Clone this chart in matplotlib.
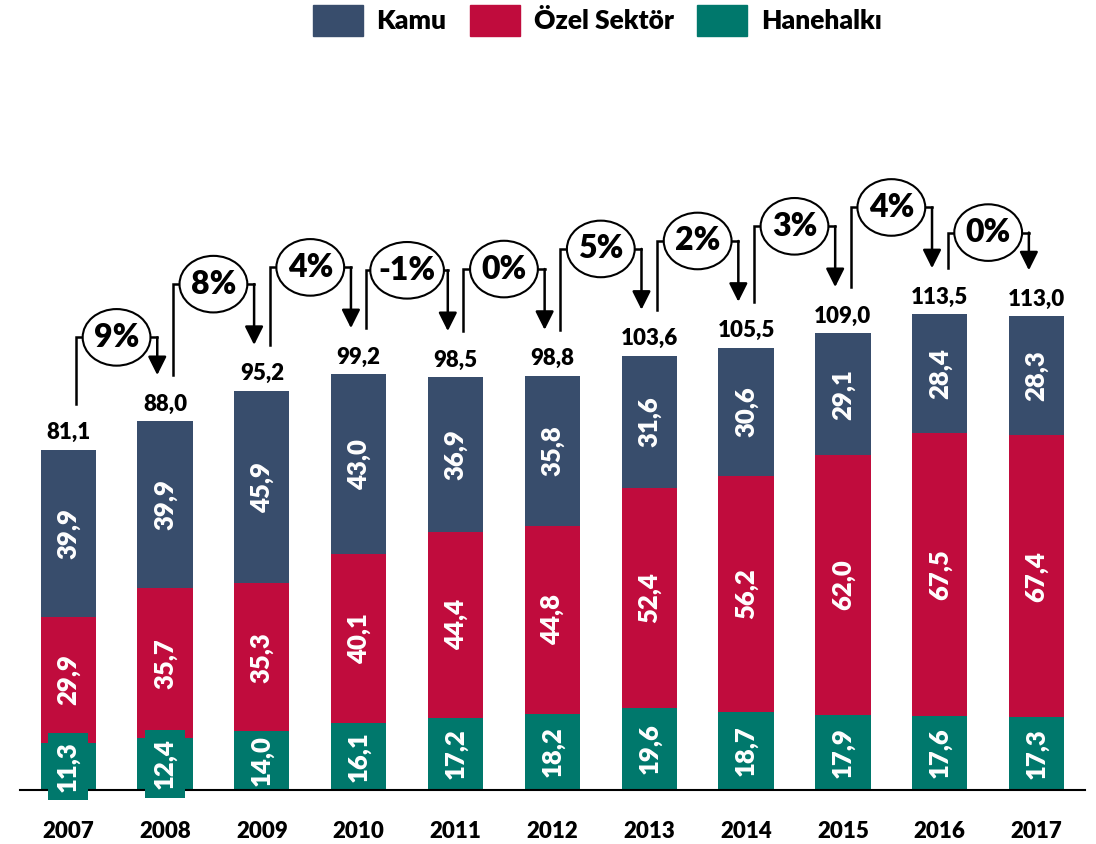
import matplotlib.pyplot as plt
from matplotlib.patches import Ellipse, Patch

plt.rcParams['font.family'] = ['Lato', 'DejaVu Sans']

years = ['2007', '2008', '2009', '2010', '2011', '2012', '2013', '2014', '2015', '2016', '2017']
hanehalki = [11.3, 12.4, 14.0, 16.1, 17.2, 18.2, 19.6, 18.7, 17.9, 17.6, 17.3]
ozel = [29.9, 35.7, 35.3, 40.1, 44.4, 44.8, 52.4, 56.2, 62.0, 67.5, 67.4]
kamu = [39.9, 39.9, 45.9, 43.0, 36.9, 35.8, 31.6, 30.6, 29.1, 28.4, 28.3]
totals = [81.1, 88.0, 95.2, 99.2, 98.5, 98.8, 103.6, 105.5, 109.0, 113.5, 113.0]
growth = ['9%', '8%', '4%', '-1%', '0%', '5%', '2%', '3%', '4%', '0%']

c_kamu = '#384D6C'
c_ozel = '#C00C3D'
c_hane = '#00786C'

def fmt(v):
    return f'{v:.1f}'.replace('.', ',')

fig = plt.figure(figsize=(10.96, 8.44), dpi=100)
ax = fig.add_axes([0.018, 0.064, 0.972, 0.936])

x = list(range(len(years)))
w = 0.57
ax.bar(x, hanehalki, w, color=c_hane, zorder=2)
ax.bar(x, ozel, w, bottom=hanehalki, color=c_ozel, zorder=2)
bot2 = [a + b for a, b in zip(hanehalki, ozel)]
ax.bar(x, kamu, w, bottom=bot2, color=c_kamu, zorder=2)

lab_kw = dict(rotation=90, ha='center', va='center', color='white',
              fontsize=18.5, fontweight='heavy', zorder=4)
for i in x:
    # short segments get a label box that sticks out, as in the original
    box = dict(facecolor=c_hane, edgecolor='none', pad=6) if hanehalki[i] < 13 else None
    ax.text(i, hanehalki[i] / 2, fmt(hanehalki[i]), bbox=box, **lab_kw)
    ax.text(i, hanehalki[i] + ozel[i] / 2, fmt(ozel[i]), **lab_kw)
    ax.text(i, bot2[i] + kamu[i] / 2, fmt(kamu[i]), **lab_kw)
    ax.text(i, totals[i] + 1.6, fmt(totals[i]), ha='center', va='bottom',
            fontsize=16, fontweight='heavy')

# growth brackets
for i, g in enumerate(growth):
    x0 = i + 0.08
    x1 = i + 1 - 0.08
    off = 20 if i in (0, len(growth) - 1) else 25.5
    level = totals[i + 1] + off
    ax.plot([x0, x0, x1], [totals[i] + 11, level, level], color='black', lw=1.8,
            zorder=3, solid_joinstyle='miter')
    ax.annotate('', xy=(x1, totals[i + 1] + 11), xytext=(x1, level),
                arrowprops=dict(arrowstyle='-|>', mutation_scale=28, color='black',
                                lw=1.8, shrinkA=0, shrinkB=0), zorder=3)
    xm = (x0 + x1) / 2
    ew = 0.76 if g.startswith('-') else 0.70
    ax.add_patch(Ellipse((xm, level), ew, 13.5, facecolor='white',
                         edgecolor='black', lw=1.5, zorder=5))
    ax.text(xm, level, g, ha='center', va='center', fontsize=23,
            fontweight='heavy', zorder=6)

ax.set_xlim(-0.5, 10.5)
ax.set_ylim(0, 188.5)
ax.set_xticks(x)
ax.set_xticklabels(years, fontsize=16, fontweight='heavy')
ax.tick_params(axis='x', length=0, pad=22)
ax.set_yticks([])
for s in ['top', 'right', 'left']:
    ax.spines[s].set_visible(False)
ax.spines['bottom'].set_linewidth(1.5)
ax.spines['bottom'].set_zorder(3)

handles = [Patch(color=c_kamu, label='Kamu'), Patch(color=c_ozel, label='Özel Sektör'),
           Patch(color=c_hane, label='Hanehalkı')]
fig.legend(handles=handles, loc='upper center', bbox_to_anchor=(0.545, 1.022), ncol=3,
           frameon=False, prop=dict(size=19, weight='heavy'), handlelength=1.9,
           handleheight=1.4, columnspacing=0.9, handletextpad=0.5)

fig.savefig('out.png', dpi=100)
